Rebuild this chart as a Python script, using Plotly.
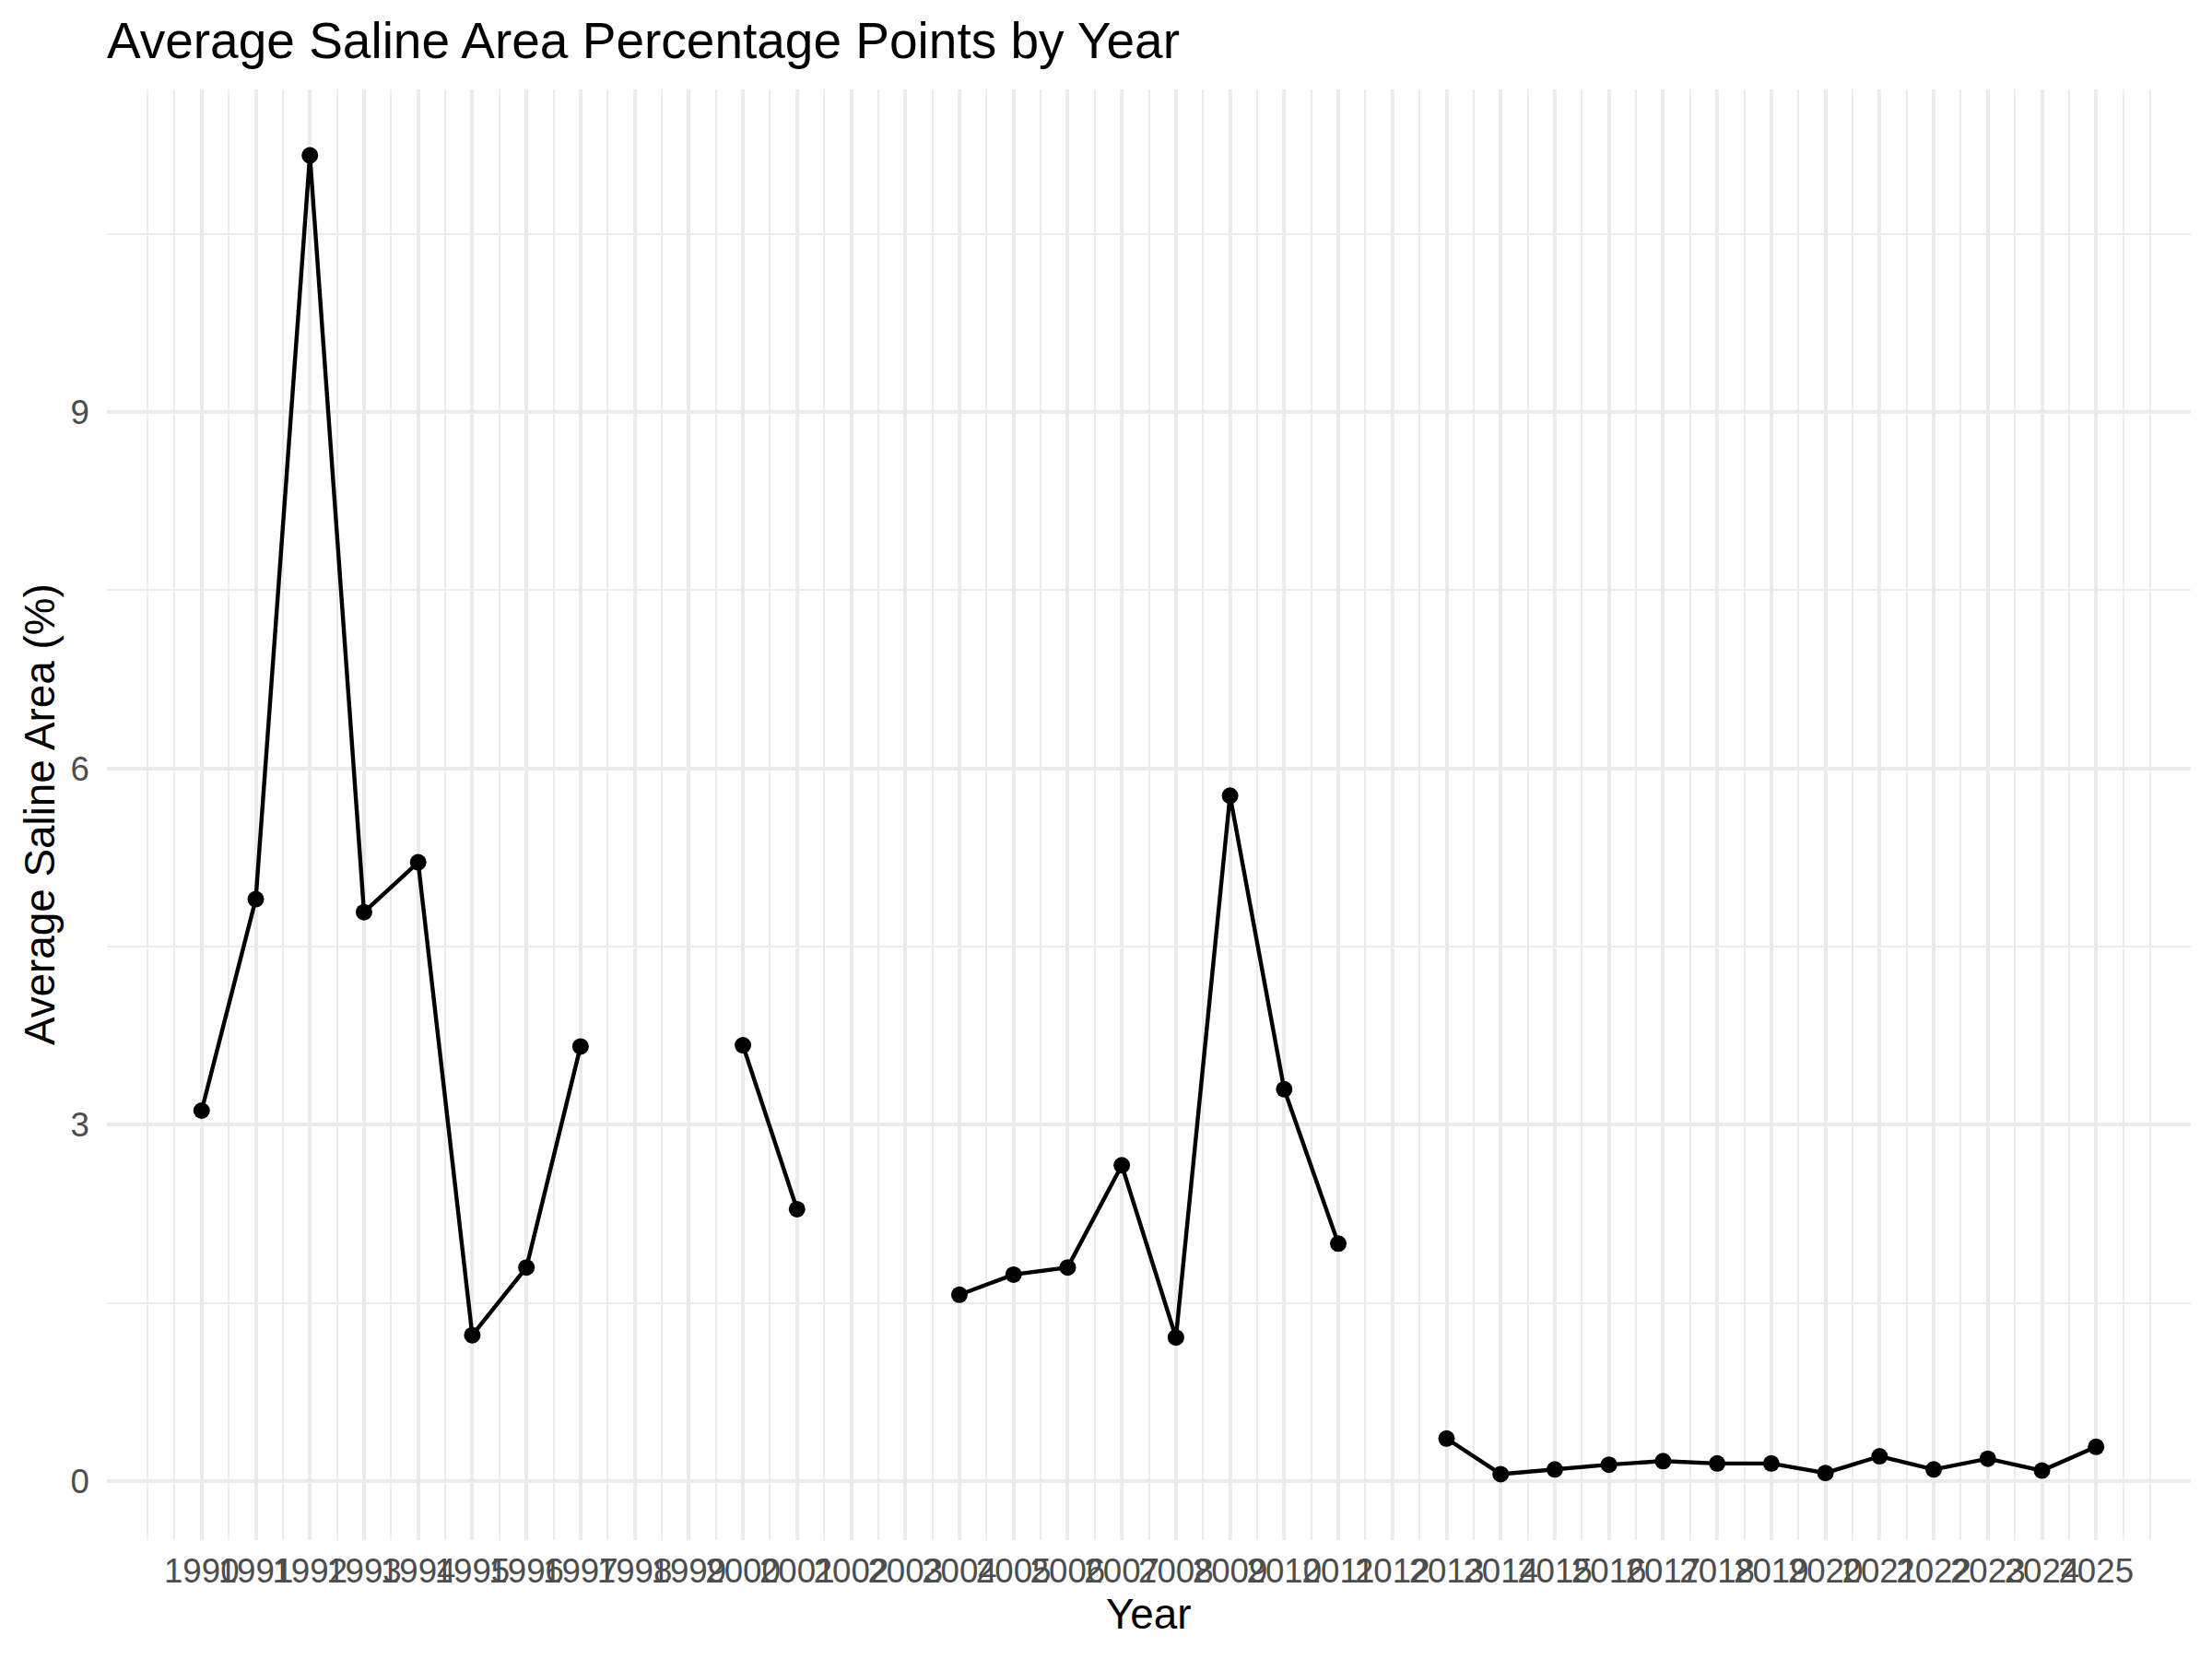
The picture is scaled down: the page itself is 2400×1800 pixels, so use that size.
import plotly.graph_objects as go

# ---- data ----
years = list(range(1990, 2026))
saline_pct = [
    3.12, 4.90, 11.16, 4.79, 5.21, 1.23, 1.80, 3.66,   # 1990-1997
    None, None,                                        # 1998-1999
    3.67, 2.29,                                        # 2000-2001
    None, None,                                        # 2002-2003
    1.57, 1.74, 1.80, 2.66, 1.21, 5.77, 3.30, 2.00,    # 2004-2011
    None,                                              # 2012
    0.36, 0.06, 0.10, 0.14, 0.17, 0.15, 0.15, 0.07,    # 2013-2020
    0.21, 0.10, 0.19, 0.09, 0.29,                      # 2021-2025
]
x_tick_labels = [str(y) for y in years]
y_tick_vals = [0, 3, 6, 9]
y_minor_vals = [1.5, 4.5, 7.5, 10.5]
x_minor_vals = [1989] + [y + 0.5 for y in range(1989, 2026)] + [2026]

title_text = "Average Saline Area Percentage Points by Year"
x_title = "Year"
y_title = "Average Saline Area (%)"

# ---- figure ----
W, H = 2400, 1800
ML, MR, MT, MB = 116, 23, 97, 129
PW, PH = W - ML - MR, H - MT - MB
FONT = "Liberation Sans, Arial, Helvetica, sans-serif"
GRID = "#EBEBEB"

fig = go.Figure()
fig.add_trace(go.Scatter(
    x=years, y=saline_pct, mode="lines+markers",
    connectgaps=False,
    line=dict(color="black", width=4.4),
    marker=dict(color="black", size=18),
    showlegend=False,
))

vals = [v for v in saline_pct if v is not None]
ymin, ymax = min(vals), max(vals)
pad = (ymax - ymin) * 0.05
xpad = (years[-1] - years[0]) * 0.05

fig.update_layout(
    width=W, height=H,
    margin=dict(l=ML, r=MR, t=MT, b=MB, autoexpand=False),
    paper_bgcolor="white", plot_bgcolor="white",
    font=dict(family=FONT, color="black"),
    title=dict(text=title_text, x=ML / W, xref="container", xanchor="left",
               y=1 - 44 / H, yref="container", yanchor="middle",
               font=dict(size=55, color="black", family=FONT)),
    xaxis=dict(
        range=[years[0] - xpad, years[-1] + xpad],
        tickmode="array", tickvals=years, ticktext=x_tick_labels,
        showgrid=True, gridcolor=GRID, gridwidth=3.5,
        minor=dict(tickvals=x_minor_vals, showgrid=True, gridcolor=GRID,
                   gridwidth=2, ticks=""),
        ticks="", zeroline=False, showline=False,
        tickfont=dict(size=36.7, color="#4D4D4D", family=FONT),
        ticklabelstandoff=8, tickangle=0,
    ),
    yaxis=dict(
        range=[ymin - pad, ymax + pad],
        tickmode="array", tickvals=y_tick_vals,
        ticktext=[str(v) for v in y_tick_vals],
        showgrid=True, gridcolor=GRID, gridwidth=3.5,
        minor=dict(tickvals=y_minor_vals, showgrid=True, gridcolor=GRID,
                   gridwidth=2, ticks=""),
        ticks="", zeroline=False, showline=False,
        tickfont=dict(size=36.7, color="#4D4D4D", family=FONT),
        ticklabelstandoff=18,
    ),
    annotations=[
        dict(text=x_title, xref="paper", yref="paper", x=0.5,
             y=-(1752 - (H - MB)) / PH, xanchor="center", yanchor="middle",
             showarrow=False, font=dict(size=45.8, color="black", family=FONT)),
        dict(text=y_title, xref="paper", yref="paper", x=-(ML - 43) / PW,
             y=0.5, xanchor="center", yanchor="middle", textangle=-90,
             showarrow=False, font=dict(size=45.8, color="black", family=FONT)),
    ],
)

fig.write_html("out.html")
